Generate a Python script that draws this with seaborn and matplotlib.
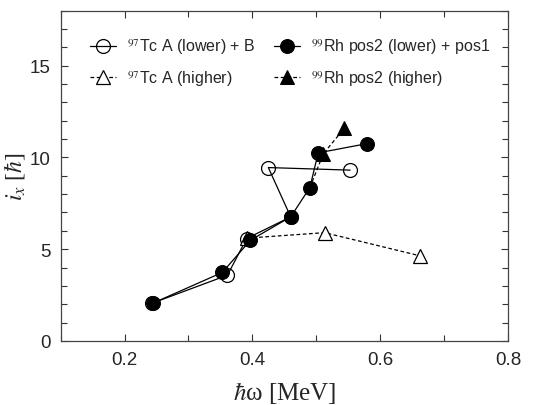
import numpy as np
import seaborn as sns
import matplotlib
matplotlib.use("Agg")
import matplotlib.pyplot as plt
from matplotlib.ticker import MultipleLocator

# 97Tc A (lower) + B
tc_low_x = [0.243, 0.361, 0.391, 0.460, 0.425, 0.553]
tc_low_y = [2.05, 3.58, 5.58, 6.76, 9.45, 9.31]
# 97Tc A (higher)
tc_high_x = [0.391, 0.513, 0.662]
tc_high_y = [5.60, 5.90, 4.64]
# 99Rh pos2 (lower) + pos1
rh_low_x = [0.244, 0.353, 0.397, 0.460, 0.490, 0.503, 0.580]
rh_low_y = [2.05, 3.73, 5.49, 6.76, 8.36, 10.25, 10.76]
# 99Rh pos2 (higher)
rh_high_x = [0.490, 0.511, 0.544]
rh_high_y = [8.36, 10.20, 11.60]

sns.set_style("ticks")
plt.rcParams['font.family'] = ['Liberation Sans', 'DejaVu Sans']
plt.rcParams['mathtext.fontset'] = 'stix'
plt.rcParams['xtick.direction'] = 'in'
plt.rcParams['ytick.direction'] = 'in'
plt.rcParams['xtick.top'] = True
plt.rcParams['ytick.right'] = True
plt.rcParams['xtick.minor.visible'] = True
plt.rcParams['ytick.minor.visible'] = True

fig = plt.figure(figsize=(5.51, 4.06), dpi=100)
ax = fig.add_axes([0.110, 0.158, 0.812, 0.813])

ms = 10
sns.lineplot(x=tc_low_x, y=tc_low_y, sort=False, ax=ax, color='black', lw=0.9,
             marker='o', ms=ms, mfc='none', mec='black', mew=0.9,
             label=r'$^{97}$Tc A (lower) + B')
sns.lineplot(x=tc_high_x, y=tc_high_y, sort=False, ax=ax, color='black', lw=0.9,
             ls=(0, (3, 2)), marker='^', ms=ms, mfc='white', mec='black', mew=0.9,
             label=r'$^{97}$Tc A (higher)')
sns.lineplot(x=rh_low_x, y=rh_low_y, sort=False, ax=ax, color='black', lw=0.9,
             marker='o', ms=ms, mfc='black', mec='black',
             label=r'$^{99}$Rh pos2 (lower) + pos1')
sns.lineplot(x=rh_high_x, y=rh_high_y, sort=False, ax=ax, color='black', lw=0.9,
             ls=(0, (3, 2)), marker='^', ms=ms, mfc='black', mec='black',
             markevery=[1, 2], label=r'$^{99}$Rh pos2 (higher)')

ax.set_xlim(0.1, 0.8)
ax.set_ylim(0, 18)
ax.xaxis.set_major_locator(MultipleLocator(0.2))
ax.xaxis.set_minor_locator(MultipleLocator(0.1))
ax.yaxis.set_major_locator(MultipleLocator(5))
ax.yaxis.set_minor_locator(MultipleLocator(1))
ax.tick_params(which='both', direction='in', top=True, right=True, bottom=True, left=True,
               labelsize=13.5, width=0.8, color='#333333')
ax.tick_params(which='major', length=5, pad=7)
ax.tick_params(which='minor', length=4)
ax.set_xticks([0.2, 0.4, 0.6, 0.8])
ax.set_xticklabels(['0.2', '0.4', '0.6', '0.8'])
for s in ax.spines.values():
    s.set_linewidth(0.9)
    s.set_color('#444444')

ax.set_xlabel(r'$\hbar$ω [MeV]', fontsize=18, family='Liberation Serif', labelpad=8)
ax.set_ylabel(r'$i_x$ [$\hbar$]', fontsize=17, family='Liberation Serif')
ax.yaxis.set_label_coords(-0.075, 0.5)

h, l = ax.get_legend_handles_labels()
ax.legend(h, l, ncol=2, loc='upper left', frameon=False, fontsize=11.5,
          handlelength=1.6, handletextpad=0.7, columnspacing=1.2,
          borderaxespad=0.6, labelspacing=0.75, bbox_to_anchor=(0.03, 0.97))

fig.savefig('out.png', dpi=100)
